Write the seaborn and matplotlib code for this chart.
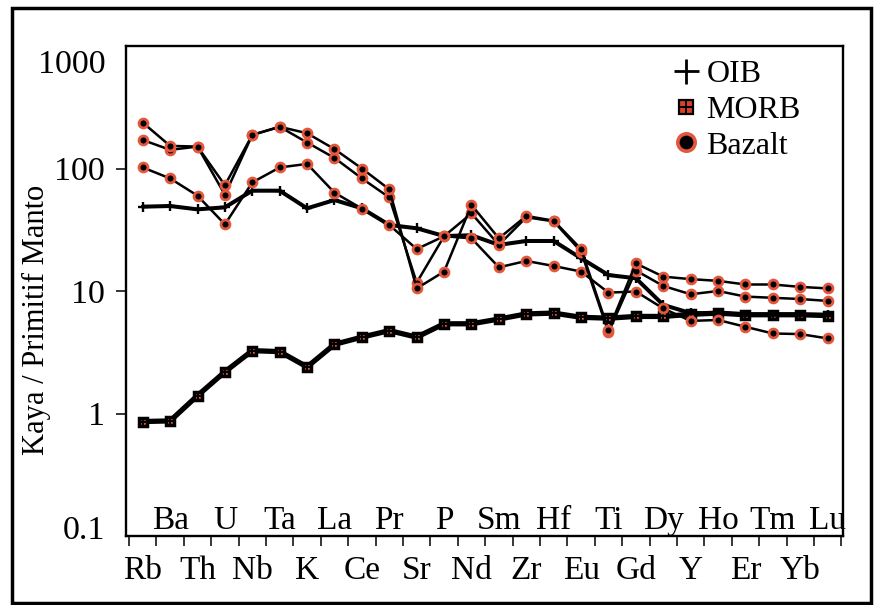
import numpy as np
import pandas as pd
import matplotlib
matplotlib.use("Agg")
import matplotlib.pyplot as plt
import matplotlib.transforms as mtransforms
from matplotlib.lines import Line2D
from matplotlib.patches import Rectangle
import seaborn as sns

# ---------------- data ----------------
elements = ["Rb", "Ba", "Th", "U", "Nb", "Ta", "K", "La", "Ce", "Pr", "Sr", "P", "Nd",
            "Sm", "Zr", "Hf", "Eu", "Ti", "Gd", "Dy", "Y", "Ho", "Er", "Tm", "Yb", "Lu"]

oib = [48.8, 49.4, 46.4, 48.2, 65.9, 65.9, 47.3, 55.3, 47.3, 34.6, 32.5, 28.1, 28.5,
       23.8, 25.6, 25.6, 18.5, 13.5, 12.7, 7.7, 6.6, 6.6, 6.4, 6.4, 6.4, 6.4]

morb = [0.86, 0.87, 1.40, 2.19, 3.26, 3.2, 2.4, 3.67, 4.2, 4.75, 4.2, 5.4, 5.4,
        5.9, 6.5, 6.6, 6.1, 6.0, 6.2, 6.2, 6.45, 6.6, 6.4, 6.4, 6.4, 6.3]

bazalt_a = [237, 153, 151, 73, 188, 219, 194, 144, 100, 67.6, 10.5, 14.4, 50.4,
            26.9, 41, 37.5, 22, 4.8, 16.8, 13.1, 12.5, 12.1, 11.3, 11.3, 10.8, 10.5]
bazalt_b = [171, 142, 151, 61, 188, 219, 163, 122, 83, 58, 11.7, 28, 43,
            23.8, 40, 37, 21, 4.6, 14.7, 11.0, 9.4, 10.0, 9.0, 8.8, 8.6, 8.3]
bazalt_c = [102, 83, 60, 35, 77, 102, 109, 63.5, 47, 34.6, 22, 28, 26.9,
            15.6, 17.6, 16, 14.4, 9.7, 9.9, 7.2, 5.7, 5.8, 5.1, 4.5, 4.45, 4.1]

ytick_values = [0.1, 1, 10, 100, 1000]
ytick_labels = ["0.1", "1", "10", "100", "1000"]
legend_labels = ["OIB", "MORB", "Bazalt"]
ylabel = "Kaya / Primitif Manto"

# ---------------- style ----------------
sns.set_theme(style="white")
plt.rcParams["font.family"] = ["Liberation Serif", "DejaVu Serif"]
plt.rcParams["text.color"] = "black"
plt.rcParams["axes.labelcolor"] = "black"
plt.rcParams["xtick.color"] = "black"
plt.rcParams["ytick.color"] = "black"

CORAL = "#E4573D"
pos = np.arange(len(elements))

fig = plt.figure(figsize=(8.75, 6.05), dpi=100)
W, H = 875, 605
ax = fig.add_axes([126 / W, 1 - 536 / H, (843 - 126) / W, (536 - 46) / H])
ax.set_yscale("log")

df = pd.DataFrame({"pos": pos, "OIB": oib, "MORB": morb,
                   "A": bazalt_a, "B": bazalt_b, "C": bazalt_c})

# MORB
sns.lineplot(data=df, x="pos", y="MORB", ax=ax, color="black", lw=3.8,
             marker="s", ms=6.2, mfc=CORAL, mec="black", mew=2.5,
             estimator=None, sort=False, zorder=2)
ax.plot(df["pos"], df["MORB"], linestyle="none", marker="+", ms=6.2,
        mec="black", mew=1.4, zorder=2.1)

# OIB
sns.lineplot(data=df, x="pos", y="OIB", ax=ax, color="black", lw=2.9,
             marker="+", ms=6.5, mec="black", mew=1.7,
             estimator=None, sort=False, zorder=3)

# Bazalt
for col in ["C", "B", "A"]:
    sns.lineplot(data=df, x="pos", y=col, ax=ax, color="black", lw=1.8,
                 marker="o", ms=6.4, mfc="black", mec=CORAL, mew=2.0,
                 estimator=None, sort=False, zorder=4)

ax.set_xlim(-0.61, 25.56)
ax.set_ylim(0.1, 1000)
ax.set_xlabel("")
ax.set_ylabel("")

# spines
for s in ax.spines.values():
    s.set_color("black")
    s.set_linewidth(1.7)

# y ticks
ax.set_yticks(ytick_values)
ax.set_yticklabels(ytick_labels)
ax.yaxis.set_minor_locator(matplotlib.ticker.NullLocator())
ax.tick_params(axis="y", which="major", direction="out", length=7, width=1.1,
               color="black", labelcolor="black", left=True, labelsize=24.5, pad=8)
yticks = ax.yaxis.get_major_ticks()
for t in (yticks[0], yticks[-1]):
    t.tick1line.set_visible(False)
ylabs = ax.get_yticklabels()
ylabs[-1].set_transform(ylabs[-1].get_transform() +
                        mtransforms.ScaledTranslation(0, -0.15, fig.dpi_scale_trans))
ylabs[0].set_transform(ylabs[0].get_transform() +
                       mtransforms.ScaledTranslation(0, 0.09, fig.dpi_scale_trans))

# x ticks: labels at categories, tick marks at boundaries
ax.set_xticks(pos)
ax.set_xticklabels(elements)
ax.set_xticks(np.arange(len(elements) + 1) - 0.5, minor=True)
ax.tick_params(axis="x", which="major", length=0, labelsize=24, pad=14,
               labelcolor="black", bottom=True)
ax.tick_params(axis="x", which="minor", direction="out", length=7, width=1.1,
               color="black", bottom=True)
for i, lab in enumerate(ax.get_xticklabels()):
    if i % 2 == 1:
        lab.set_transform(lab.get_transform() +
                          mtransforms.ScaledTranslation(0, 0.50, fig.dpi_scale_trans))

# y label
fig.text(36 / W, 1 - 320 / H, ylabel, rotation=90, ha="center", va="center",
         fontsize=22, color="black")

# legend
h_oib = Line2D([], [], linestyle="none", marker="+", ms=18, mec="black", mew=2.0)
h_morb_sq = Line2D([], [], linestyle="none", marker="s", ms=10.5, mfc="#D8402A",
                   mec="black", mew=1.6)
h_morb_x = Line2D([], [], linestyle="none", marker="+", ms=10.5, mec="black", mew=1.4)
h_baz = Line2D([], [], linestyle="none", marker="o", ms=12.5, mfc="black",
               mec=CORAL, mew=2.6)
fig.legend([h_oib, (h_morb_sq, h_morb_x), h_baz], legend_labels,
           loc="upper left", bbox_to_anchor=(644 / W, 1 - 31 / H),
           frameon=False, fontsize=23, handlelength=0.8, handletextpad=0.25,
           labelspacing=0.2, borderpad=0.4, labelcolor="black")

# outer frame
fig.patches.append(Rectangle((12 / W, 2 / H), (871 - 12) / W, (600 - 5) / H,
                             transform=fig.transFigure, fill=False,
                             edgecolor="black", linewidth=2.5))

fig.savefig("out.png", dpi=100)
